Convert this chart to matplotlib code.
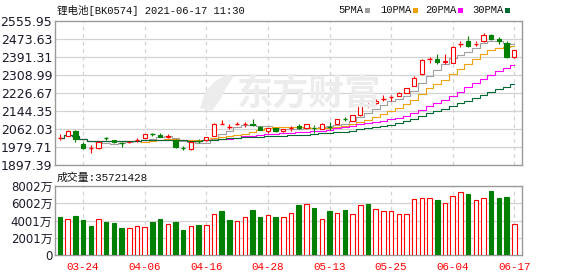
import matplotlib
matplotlib.use('Agg')
import matplotlib.pyplot as plt
import numpy as np
import pandas as pd
from matplotlib.patches import Rectangle, Polygon

# ---------------- data ----------------
dates = ['03-19', '03-22', '03-23', '03-24', '03-25', '03-26', '03-29', '03-30', '03-31', '04-01',
         '04-02', '04-06', '04-07', '04-08', '04-09', '04-12', '04-13', '04-14', '04-15', '04-16',
         '04-19', '04-20', '04-21', '04-22', '04-23', '04-26', '04-27', '04-28', '04-29', '04-30',
         '05-06', '05-07', '05-10', '05-11', '05-12', '05-13', '05-14', '05-17', '05-18', '05-19',
         '05-20', '05-21', '05-24', '05-25', '05-26', '05-27', '05-28', '05-31', '06-01', '06-02',
         '06-03', '06-04', '06-07', '06-08', '06-09', '06-10', '06-11', '06-15', '06-16', '06-17']

open_ = [2018, 2032, 2054, 1992, 1973, 1974, 2021, 2012, 1998, 2001,
         2010, 2022, 2039, 2034, 2024, 2012, 1975, 1969, 2010, 2010,
         2030, 2082, 2071, 2084, 2082, 2084, 2073, 2053, 2065, 2052,
         2064, 2076, 2068, 2069, 2064, 2071, 2085, 2109, 2100, 2125,
         2170, 2179, 2199, 2209, 2213, 2228, 2260, 2312, 2379, 2382,
         2367, 2365, 2452, 2466, 2452, 2464, 2492, 2473, 2454, 2390]
high = [2040, 2056, 2056, 2001, 1989, 2007, 2027, 2014, 2004, 2008,
        2021, 2040, 2043, 2044, 2038, 2016, 1984, 2006, 2016, 2026,
        2088, 2104, 2083, 2096, 2093, 2106, 2075, 2067, 2067, 2062,
        2075, 2085, 2085, 2080, 2088, 2094, 2108, 2115, 2126, 2180,
        2182, 2197, 2216, 2218, 2231, 2250, 2306, 2380, 2390, 2406,
        2406, 2443, 2465, 2489, 2465, 2500, 2496, 2481, 2466, 2424]
low = [2012, 2030, 2001, 1972, 1954, 1972, 2010, 1999, 1981, 1998,
       2001, 2020, 2030, 2024, 2021, 1976, 1964, 1967, 2000, 2008,
       2028, 2081, 2062, 2079, 2073, 2078, 2056, 2046, 2047, 2047,
       2054, 2063, 2061, 2042, 2062, 2058, 2083, 2097, 2098, 2123,
       2161, 2177, 2190, 2192, 2211, 2226, 2258, 2310, 2366, 2358,
       2358, 2363, 2438, 2435, 2441, 2462, 2469, 2449, 2386, 2388]
close = [2020, 2053, 2017, 1975, 1975, 2004, 2019, 2001, 1996, 2004,
         2012, 2038, 2037, 2027, 2029, 1981, 1973, 2004, 2008, 2024,
         2083, 2084, 2073, 2086, 2084, 2080, 2058, 2065, 2054, 2060,
         2066, 2065, 2083, 2067, 2086, 2069, 2106, 2107, 2124, 2175,
         2172, 2190, 2201, 2211, 2225, 2248, 2294, 2378, 2381, 2367,
         2372, 2436, 2454, 2443, 2454, 2492, 2474, 2466, 2390, 2422]

# volume in 万 (10k) units
volume = [4386, 4155, 4501, 4040, 3347, 4117, 3809, 3732, 3116, 3078,
          3309, 3232, 3809, 4155, 3540, 3809, 2885, 3309, 3463, 3463,
          4809, 5078, 4040, 4001, 4463, 5194, 4386, 4617, 4386, 4463,
          4924, 5771, 5963, 5501, 4232, 5078, 4924, 5270, 4809, 5848,
          5963, 5386, 5155, 5155, 4809, 4732, 6540, 6655, 6655, 6424,
          6078, 6886, 7348, 7040, 6424, 6655, 7386, 6578, 6694, 3572]
# 1 = up (red hollow), 0 = down (green filled)
volume_up = [0, 1, 0, 0, 0, 1, 0, 0, 0, 1,
             1, 1, 0, 0, 1, 0, 0, 1, 0, 1,
             1, 0, 0, 1, 1, 0, 0, 1, 0, 1,
             1, 0, 1, 0, 1, 0, 1, 0, 1, 1,
             0, 1, 1, 1, 1, 1, 1, 1, 1, 0,
             1, 1, 1, 0, 1, 1, 0, 0, 0, 1]

price_ticks = [1897.39, 1979.71, 2062.03, 2144.35, 2226.67, 2308.99, 2391.31, 2473.63, 2555.95]
vol_ticks = [0, 2001, 4001, 6002, 8002]
vol_tick_labels = ['0', '2001万', '4001万', '6002万', '8002万']
xtick_labels = ['03-24', '04-06', '04-16', '04-28', '05-13', '05-25', '06-04', '06-17']
ma_periods = [5, 10, 20, 30]
ma_names = ['5PMA', '10PMA', '20PMA', '30PMA']
ma_colors = ['#a0a0a0', '#f0a30a', '#ff00ff', '#006a33']
title = '锂电池[BK0574] 2021-06-17 11:30'
vol_title = '成交量:35721428'
watermark = '东方财富'

RED = '#ff0000'
GREEN = '#008000'
GRID = '#d3d3d3'
SPINE = '#9a9a9a'

W, H = 578, 276
fig = plt.figure(figsize=(W / 100, H / 100), dpi=100)
fig.patch.set_facecolor('white')


def px_axes(l, t, r, b):
    return fig.add_axes([l / W, 1 - b / H, (r - l) / W, (b - t) / H])


ax = px_axes(55, 21, 522, 165)
axv = px_axes(55, 186, 522, 255)

x = np.arange(len(dates))
tick_idx = [dates.index(d) for d in xtick_labels]
xlim = (-0.65, len(dates))

mono = ['Liberation Mono', 'Noto Sans CJK SC']
cjk = ['Noto Sans CJK SC', 'DejaVu Sans']

for a in (ax, axv):
    a.set_xlim(*xlim)
    for s in a.spines.values():
        s.set_color(SPINE)
        s.set_linewidth(1.0)
    a.tick_params(length=0)
    for t in tick_idx:
        a.axvline(t, color=GRID, lw=0.9, ls=(0, (3, 3)), zorder=0.6)

# ---------- price panel ----------
ax.set_ylim(price_ticks[0], price_ticks[-1])
ax.set_yticks(price_ticks)
ax.set_yticklabels([f'{v:.2f}' for v in price_ticks], fontsize=9, color='#1a1a2a',
                   family='DejaVu Sans')
ax.tick_params(axis='y', pad=2)
ax.set_xticks([])
for v in price_ticks[1:-1]:
    ax.axhline(v, color=GRID, lw=0.9, zorder=0.6)

# watermark
fig.text(309 / W, 1 - 94 / H, watermark, family=cjk, fontsize=26, fontweight='bold',
         color='#ececec', ha='center', va='center', zorder=0.1)
logo = Polygon([[200 / W, 1 - 108 / H], [205 / W, 1 - 92 / H], [214 / W, 1 - 82 / H],
                [226 / W, 1 - 75 / H], [234 / W, 1 - 76 / H], [226 / W, 1 - 88 / H],
                [220 / W, 1 - 100 / H], [212 / W, 1 - 111 / H]],
               closed=True, transform=fig.transFigure, facecolor='#ececec',
               edgecolor='none', zorder=0.1)
fig.patches.append(logo)
ax.patch.set_alpha(0)

bw = 0.56
for i in range(len(dates)):
    o, h, l, c = open_[i], high[i], low[i], close[i]
    up = c >= o
    col = RED if up else GREEN
    lo_b, hi_b = min(o, c), max(o, c)
    ax.vlines(i, l, lo_b, color=col, lw=0.8, zorder=3)
    ax.vlines(i, hi_b, h, color=col, lw=0.8, zorder=3)
    if hi_b - lo_b < 3:
        ax.hlines((o + c) / 2, i - bw / 2, i + bw / 2, color=col, lw=1.0, zorder=3)
    else:
        ax.add_patch(Rectangle((i - bw / 2, lo_b), bw, hi_b - lo_b,
                               facecolor='white' if up else col, edgecolor=col,
                               lw=0.8, zorder=3))

cs = pd.Series(close, dtype=float)
for n, colr in zip(ma_periods, ma_colors):
    ma = cs.rolling(n, min_periods=1).mean()
    ax.plot(x, ma.values, color=colr, lw=0.8, drawstyle='steps-mid', zorder=2)

# ---------- volume panel ----------
axv.set_ylim(0, vol_ticks[-1])
axv.set_yticks(vol_ticks)
axv.set_yticklabels(vol_tick_labels, fontsize=8.5, color='#1a1a2a',
                    family=['DejaVu Sans', 'Noto Sans CJK SC'])
axv.tick_params(axis='y', pad=2)
for v in vol_ticks[1:-1]:
    axv.axhline(v, color=GRID, lw=0.9, zorder=0.6)
axv.set_xticks(tick_idx)
axv.set_xticklabels(xtick_labels, fontsize=7.8, color=RED, family=mono)
axv.tick_params(axis='x', pad=5)

for i in range(len(dates)):
    if volume_up[i]:
        axv.bar(i, volume[i], width=0.58, facecolor='white', edgecolor=RED, lw=0.8, zorder=3)
    else:
        axv.bar(i, volume[i], width=0.58, facecolor=GREEN, edgecolor=GREEN, lw=0.8, zorder=3)

# ---------- texts ----------
fig.text(57 / W, 1 - 10 / H, title, family=mono, fontsize=7.6, color='#111111',
         ha='left', va='center')
fig.text(57 / W, 1 - 177.5 / H, vol_title, family=mono, fontsize=7.8, color='#111111',
         ha='left', va='center')

legend_x = [338, 380, 425, 472]
for lx, name, colr in zip(legend_x, ma_names, ma_colors):
    fig.text(lx / W, 1 - 10 / H, name, family=mono, fontsize=7.6, color='#111111',
             ha='left', va='center')
    sq_x = lx + 6.2 * len(name) + 2
    fig.patches.append(Rectangle((sq_x / W, 1 - 12.5 / H), 5 / W, 5 / H,
                                 transform=fig.transFigure, facecolor=colr,
                                 edgecolor='none'))

fig.savefig('out.png', dpi=100, facecolor='white')
